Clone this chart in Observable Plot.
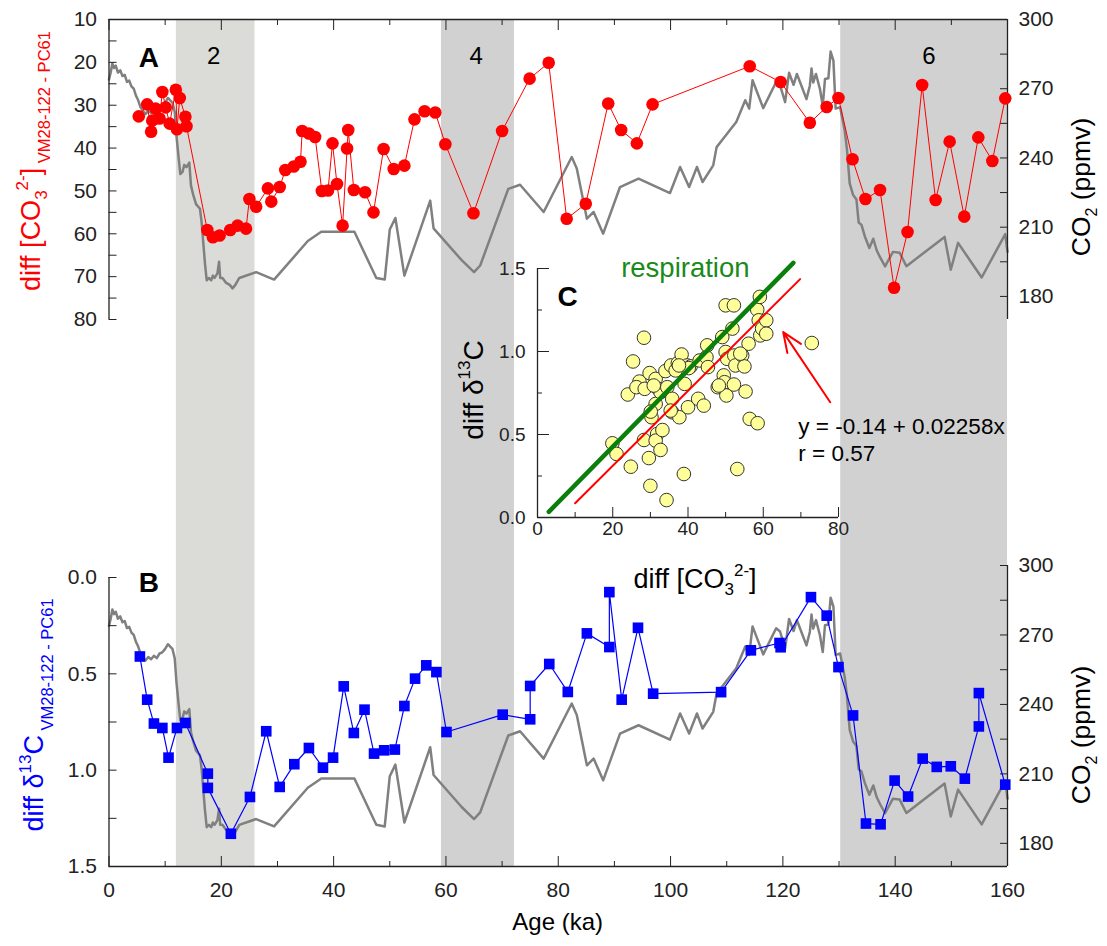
<!DOCTYPE html>
<html><head><meta charset="utf-8">
<script src="https://cdn.jsdelivr.net/npm/d3@7"></script>
<script src="https://cdn.jsdelivr.net/npm/@observablehq/plot@0.6"></script>
<style>
html,body{margin:0;padding:0;background:#fff;overflow:hidden;}
#chart{position:relative;width:1107px;height:946px;}
#chart svg{position:absolute;left:0;top:0;}
</style></head>
<body><div id="chart"></div>
<script>
// ---------------- DATA ----------------
// Panel A: diff [CO3 2-] (VM28-122 - PC61) vs age (ka)
const co3Age = [5.3,6.8,7.5,7.7,8.3,9.0,9.5,10.1,10.8,11.9,12.1,12.6,13.6,13.8,17.5,18.5,19.7,21.6,22.9,24.4,25.0,26.2,28.3,28.9,30.4,31.4,32.9,34.1,34.4,35.6,36.7,37.9,39.0,39.8,40.6,41.6,42.4,42.6,43.6,45.6,47.1,48.9,50.7,52.6,54.4,56.2,58.1,59.9,64.9,70.0,74.9,78.3,81.5,84.9,88.9,91.2,94.0,96.8,114.1,119.6,124.8,127.8,129.9,132.4,134.7,137.3,139.8,142.2,144.8,147.2,149.7,152.3,154.8,157.3,159.6];
const co3Val = [32.6,29.8,36.2,33.6,30.8,33.1,26.9,30.5,34.3,26.4,35.6,28.3,32.7,34.9,59.1,60.8,60.4,59.1,58.1,58.8,51.9,53.7,49.4,52.5,49.1,45.1,44.3,43.2,36.0,36.6,37.4,50.0,49.9,38.9,48.4,58.1,40.1,35.8,49.8,50.3,55.0,40.2,44.9,44.1,33.3,31.4,31.7,39.1,55.2,36.0,23.8,20.1,56.5,53.0,29.6,35.8,38.9,29.8,20.9,24.6,34.1,30.4,28.3,42.6,51.9,49.8,72.6,59.6,25.3,52.1,38.5,56.0,37.5,43.0,28.4];

// Panel B: diff d13C (VM28-122 - PC61) vs age (ka)
const d13Age = [5.5,6.8,8.0,9.5,10.6,12.1,13.6,17.6,17.6,21.7,25.1,28.0,30.4,33.0,35.6,38.1,39.9,41.8,43.6,45.5,47.2,49.0,50.9,52.6,54.5,56.5,58.3,60.1,70.1,75.0,75.0,78.4,81.7,85.1,89.1,89.1,91.3,94.2,96.9,109.0,114.3,119.4,119.6,125.0,127.8,129.9,132.5,134.8,137.4,139.9,142.3,144.9,147.4,149.9,152.4,154.9,154.9,159.6];
const d13Val = [0.410,0.634,0.758,0.781,0.935,0.781,0.755,1.018,1.092,1.330,1.139,0.798,1.087,0.969,0.885,0.987,0.935,0.565,0.807,0.686,0.914,0.897,0.893,0.667,0.525,0.456,0.491,0.802,0.712,0.736,0.563,0.449,0.594,0.290,0.361,0.076,0.634,0.261,0.603,0.595,0.378,0.340,0.362,0.102,0.198,0.465,0.716,1.277,1.281,1.054,1.137,0.940,0.983,0.980,1.044,0.773,0.600,1.075];

// Atmospheric CO2 (ppmv) vs age (ka), [age, ppm]
const co2Record = [[0,274],[0.3,277],[0.6,281],[0.9,279],[1.2,280],[1.6,277],[2.0,278],[2.4,275.5],[2.8,276],[3.2,273],[3.6,273.5],[4.0,271],[4.4,270],[4.8,267],[5.2,265],[5.6,262],[6.0,260.5],[6.5,259],[7.0,260.5],[7.5,259.5],[8.0,261],[8.5,260],[9.0,262],[9.5,262.5],[10.0,264],[10.5,266],[10.9,265],[11.3,264],[11.7,260],[12.0,250],[12.4,240],[12.7,233],[13.1,234],[13.4,237],[13.8,236],[14.3,238],[14.6,228],[15.0,224],[15.5,220],[16.2,218],[16.5,212],[16.8,203],[17.1,194],[17.4,187],[17.8,188],[18.2,187],[18.5,189],[18.8,188],[19.3,190],[19.6,195],[19.8,188],[20.2,188],[20.8,186],[21.5,185],[22.0,183.5],[22.5,185],[23.2,188],[26.2,190.5],[29.4,187.3],[35.4,204],[37.8,208],[43.7,208],[47.6,188],[49.1,187.3],[50.0,209],[51.0,214],[52.6,189],[57.2,221.5],[57.8,209.5],[62.8,195.7],[65.0,190.5],[66.1,193.4],[71.1,226.6],[73.2,228.4],[77.4,216.6],[82.4,240.4],[83.3,235.4],[85.1,213.7],[86.3,216.6],[88.0,207.2],[91.0,227.4],[94.3,231],[99.9,224.8],[101.7,236.1],[103.3,227.4],[104.7,236.1],[105.7,229.6],[107.6,236.8],[108.2,244.7],[109.4,248.4],[111.7,255.6],[113.3,265],[114.0,261.4],[114.6,273.7],[116.5,261.6],[118.8,272.9],[119.5,271.5],[120.4,264.2],[121.1,276.9],[121.9,271.7],[122.5,276.4],[123.3,271.3],[124.2,265.5],[124.8,271.3],[125.1,278.8],[125.4,272.7],[125.9,276.4],[126.6,269.9],[127.1,262.6],[127.5,274.2],[128.1,274.5],[128.5,286.1],[129.0,282.2],[129.4,261.4],[130.2,262],[131.0,252],[131.4,244],[131.9,229],[132.5,224],[133.1,222],[133.5,212],[134.0,211],[134.6,206],[135.4,201],[136.1,205],[136.7,200],[137.3,197],[138.2,193],[139.6,199.3],[140.8,198.9],[142.0,193.1],[148.8,205.8],[149.9,191.6],[151.2,203.2],[155.4,188.2],[159.6,207],[160.0,199.3]];

// Panel C: scatter diff [CO3 2-] (x) vs diff d13C (y)
const scatX = [19.9,21.0,24.8,24.0,25.4,28.3,27.1,26.3,28.5,28.3,29.6,29.8,30.3,30.0,31.4,31.8,31.4,32.7,33.2,31.4,32.1,32.7,34.0,34.3,34.5,35.5,35.8,35.8,36.7,37.3,37.7,38.3,39.1,38.9,39.8,40.0,40.7,42.7,43.1,44.2,44.9,45.1,45.3,47.9,49.1,49.5,49.7,50.0,50.0,50.2,50.4,51.8,52.2,52.2,52.3,52.6,53.1,54.4,55.0,55.3,56.1,56.4,58.5,58.4,59.1,58.8,59.2,59.7,60.8,60.8,72.9,30.9,35.4,40.2,53.9,48.2,37.6,30.1];
const scatY = [0.447,0.383,0.306,0.741,0.940,1.083,0.819,0.785,0.775,0.467,0.358,0.870,0.604,0.191,0.835,0.503,0.463,0.407,0.527,0.684,0.775,0.755,0.882,0.105,0.785,0.916,0.715,0.634,0.886,0.930,0.604,0.982,0.805,0.262,0.916,0.664,0.910,0.715,0.946,0.674,0.966,1.037,0.906,0.785,1.087,0.856,0.815,1.278,0.997,0.735,0.956,1.138,1.278,0.801,0.976,0.916,0.292,0.976,0.910,0.759,1.047,0.594,0.568,1.252,1.329,1.188,1.097,1.138,1.188,1.107,1.051,0.795,0.644,0.900,0.987,0.795,0.916,0.638];
// regression line y = -0.14 + 0.02258x (end points) and respiration line (end points)
const fitX = [10, 69.8], fitY = [0.086, 1.436];
const respX = [3, 68], respY = [0.034, 1.534];
// arrow pointing to the regression line: tail then head
const arrowPts = [77.8, 0.694, 65.3, 1.117];

// Glacial stage bands (ka) and their labels
const bandStart = [12, 59.2, 130.3];
const bandEnd = [26, 72.2, 160];
const stageLabels = ["2", "4", "6"];
const stageAge = [18.65, 65.4, 146.0];

// Ticks
const ageMajor = [0,20,40,60,80,100,120,140,160];
const ageMinor = [10,30,50,70,90,110,130,150];
const co3Ticks = [10,15,20,25,30,35,40,45,50,55,60,65,70,75,80];
const co2Ticks = [180,195,210,225,240,255,270,285,300];
const d13Ticks = [0,0.25,0.5,0.75,1,1.25,1.5];
const cXMajor = [0,20,40,60,80], cXMinor = [10,30,50,70];
const cYMajor = [0,0.5,1,1.5], cYMinor = [0.25,0.75,1.25];

// ---------------- DRAWING ----------------
const W = 1107, H = 946;
const XL = 108.5, XR = 1007;
const FONT = "'Liberation Sans', Arial, Helvetica, sans-serif";
const INK = "#222";
const chart = document.getElementById("chart");

const co3Data = co3Age.map((a, i) => ({age: a, v: co3Val[i]}));
const d13Data = d13Age.map((a, i) => ({age: a, v: d13Val[i]}));
const co2Data = co2Record.map(([a, p]) => ({age: a, v: p}));
const scat = scatX.map((x, i) => ({x, y: scatY[i]}));
const fitLine = fitX.map((x, i) => ({x, y: fitY[i]}));
const respLine = respX.map((x, i) => ({x, y: respY[i]}));
const bands = bandStart.map((s, i) => ({x1: s, x2: bandEnd[i], i}));
const stages = stageLabels.map((t, i) => ({t, age: stageAge[i]}));

function layer(opts) {
  const svg = Plot.plot({
    width: W, height: H,
    style: {background: "transparent", fontFamily: FONT, fontSize: "21px", overflow: "visible", color: INK},
    ...opts
  });
  chart.appendChild(svg);
  return svg;
}
const blank = () => "";

// Background shading (full height of figure)
layer({
  marginLeft: XL, marginRight: W - XR, marginTop: 19, marginBottom: H - 866,
  x: {domain: [0, 160], axis: null}, y: {domain: [0, 1], axis: null},
  marks: [
    Plot.rect(bands, {x1: "x1", x2: "x2", y1: 0, y2: 1, fill: d => d.i === 0 ? "#dbdbd7" : "#d1d1d1"})
  ]
});

// Panel A right: CO2
layer({
  marginLeft: XL, marginRight: W - XR, marginTop: 19, marginBottom: H - 319,
  x: {domain: [0, 160], axis: null}, y: {domain: [170, 300], axis: null},
  marks: [
    Plot.line(co2Data, {x: "age", y: "v", stroke: "#808080", strokeWidth: 2.5}),
    Plot.ruleX([160], {stroke: INK, strokeWidth: 1.3}),
    Plot.axisY(co2Ticks, {anchor: "right", tickSize: -8, tickPadding: 19, fontSize: 21, label: null,
      tickFormat: d => d % 30 === 0 ? String(d) : ""})
  ]
});

// Panel B right: CO2
layer({
  marginLeft: XL, marginRight: W - XR, marginTop: 565, marginBottom: H - 866,
  x: {domain: [0, 160], axis: null}, y: {domain: [170, 300], axis: null},
  marks: [
    Plot.line(co2Data, {x: "age", y: "v", stroke: "#808080", strokeWidth: 2.5}),
    Plot.ruleX([160], {stroke: INK, strokeWidth: 1.3}),
    Plot.axisY(co2Ticks, {anchor: "right", tickSize: -8, tickPadding: 19, fontSize: 21, label: null,
      tickFormat: d => d % 30 === 0 ? String(d) : ""})
  ]
});

// Panel A left: diff CO3
layer({
  marginLeft: XL, marginRight: W - XR, marginTop: 19, marginBottom: H - 319,
  x: {domain: [0, 160], axis: null}, y: {domain: [10, 80], reverse: true, axis: null},
  marks: [
    Plot.line(co3Data, {x: "age", y: "v", stroke: "#ff0000", strokeWidth: 1}),
    Plot.dot(co3Data, {x: "age", y: "v", r: 6.3, fill: "#ff0000"}),
    Plot.ruleY([10], {stroke: INK, strokeWidth: 1.3}),
    Plot.ruleX([0], {stroke: INK, strokeWidth: 1.3}),
    Plot.axisY(co3Ticks, {anchor: "left", tickSize: -8, tickPadding: 20, fontSize: 21, label: null,
      tickFormat: d => d % 10 === 0 ? String(d) : ""}),
    Plot.axisX(ageMajor, {anchor: "top", tickSize: -10, tickFormat: blank, label: null}),
    Plot.axisX(ageMinor, {anchor: "top", tickSize: -5, tickFormat: blank, label: null}),
    Plot.text(stages, {x: "age", y: 18.7, text: "t", fontSize: 24, fill: "#000"}),
    Plot.text(["A"], {x: 7.1, y: 18.9, text: d => d, fontSize: 28, fontWeight: "bold", fill: "#000"})
  ]
});

// Panel B left: diff d13C
layer({
  marginLeft: XL, marginRight: W - XR, marginTop: 577, marginBottom: H - 866,
  x: {domain: [0, 160], axis: null}, y: {domain: [0, 1.5], reverse: true, axis: null},
  marks: [
    Plot.line(d13Data, {x: "age", y: "v", stroke: "#0000ff", strokeWidth: 1.2}),
    Plot.dot(d13Data, {x: "age", y: "v", r: 6, symbol: "square", fill: "#0000ff"}),
    Plot.ruleY([1.5], {stroke: INK, strokeWidth: 1.3}),
    Plot.ruleX([0], {stroke: INK, strokeWidth: 1.3}),
    Plot.axisY(d13Ticks, {anchor: "left", tickSize: -8, tickPadding: 20, fontSize: 21, label: null,
      tickFormat: d => (d * 2) % 1 === 0 ? d.toFixed(1) : ""}),
    Plot.axisX(ageMajor, {anchor: "bottom", tickSize: -10, tickPadding: 26, fontSize: 21, label: null,
      tickFormat: d => String(d)}),
    Plot.axisX(ageMinor, {anchor: "bottom", tickSize: -5, tickFormat: blank, label: null}),
    Plot.text(["B"], {x: 7.1, y: 0.03, text: d => d, fontSize: 28, fontWeight: "bold", fill: "#000"})
  ]
});

// Inset C
layer({
  marginLeft: 537, marginRight: W - 838, marginTop: 268, marginBottom: H - 517,
  x: {domain: [0, 80], axis: null}, y: {domain: [0, 1.5], axis: null},
  marks: [
    Plot.dot(scat, {x: "x", y: "y", r: 6.8, fill: "#ffff99", stroke: "#333", strokeWidth: 1}),
    Plot.line(respLine, {x: "x", y: "y", stroke: "#0b7f0b", strokeWidth: 4.5}),
    Plot.line(fitLine, {x: "x", y: "y", stroke: "#ff0000", strokeWidth: 2}),
    Plot.arrow([arrowPts], {x1: d => d[0], y1: d => d[1], x2: d => d[2], y2: d => d[3],
      stroke: "#ff0000", strokeWidth: 2, headLength: 16, headAngle: 45}),
    Plot.ruleX([0], {stroke: INK, strokeWidth: 1.3}),
    Plot.ruleY([0], {stroke: INK, strokeWidth: 1.3}),
    Plot.axisY(cYMajor, {anchor: "left", tickSize: -12, tickPadding: 24, fontSize: 19, label: null,
      tickFormat: d => d.toFixed(1)}),
    Plot.axisY(cYMinor, {anchor: "left", tickSize: -5, tickFormat: blank, label: null}),
    Plot.axisX(cXMajor, {anchor: "bottom", tickSize: -10, tickPadding: 14, fontSize: 19, label: null,
      tickFormat: d => String(d)}),
    Plot.axisX(cXMinor, {anchor: "bottom", tickSize: -5, tickFormat: blank, label: null}),
    Plot.text(["C"], {x: 8.0, y: 1.33, text: d => d, fontSize: 28, fontWeight: "bold", fill: "#000"}),
    Plot.text(["respiration"], {x: 39.3, y: 1.50, text: d => d, fontSize: 27.5, fill: "#1a8a1a"}),
    Plot.text(["y = -0.14 + 0.02258x", "r = 0.57"], {x: 69.3, y: (d, i) => i === 0 ? 0.548 : 0.385,
      text: d => d, fontSize: 22.5, fill: "#000", textAnchor: "start"})
  ]
});

// Rich axis titles (sub/superscripts)
const over = d3.create("svg").attr("width", W).attr("height", H)
  .attr("style", "position:absolute;left:0;top:0;overflow:visible");
chart.appendChild(over.node());
function rich(x, y, rotate, fill, segs) {
  const t = over.append("text")
    .attr("transform", `translate(${x},${y}) rotate(${rotate})`)
    .attr("text-anchor", "middle").attr("fill", fill).attr("font-family", FONT);
  let cur = 0;
  for (const s of segs) {
    const sh = s.shift || 0;
    t.append("tspan").attr("font-size", s.size).attr("dy", sh - cur).text(s.text);
    cur = sh;
  }
}
rich(40, 161, -90, "#ff0000", [
  {text: "diff [CO", size: 27}, {text: "3", size: 17, shift: 7}, {text: "2-", size: 17, shift: -12},
  {text: "]", size: 27, shift: 0}, {text: " VM28-122 - PC61", size: 16.5, shift: 10}]);
rich(43, 715, -90, "#0000ff", [
  {text: "diff δ", size: 27}, {text: "13", size: 17, shift: -12}, {text: "C", size: 27, shift: 0},
  {text: " VM28-122 - PC61", size: 16.5, shift: 10}]);
rich(1090, 187, -90, "#000", [
  {text: "CO", size: 26.5}, {text: "2", size: 16, shift: 7}, {text: " (ppmv)", size: 26.5, shift: 0}]);
rich(1090, 735, -90, "#000", [
  {text: "CO", size: 26.5}, {text: "2", size: 16, shift: 7}, {text: " (ppmv)", size: 26.5, shift: 0}]);
rich(483, 390, -90, "#000", [
  {text: "diff δ", size: 28}, {text: "13", size: 17, shift: -13}, {text: "C", size: 28, shift: 0}]);
rich(695, 588, 0, "#000", [
  {text: "diff [CO", size: 27}, {text: "3", size: 17, shift: 7}, {text: "2-", size: 17, shift: -12},
  {text: "]", size: 27, shift: 0}]);
rich(557.7, 930, 0, "#000", [{text: "Age (ka)", size: 24}]);
</script>
</body></html>
